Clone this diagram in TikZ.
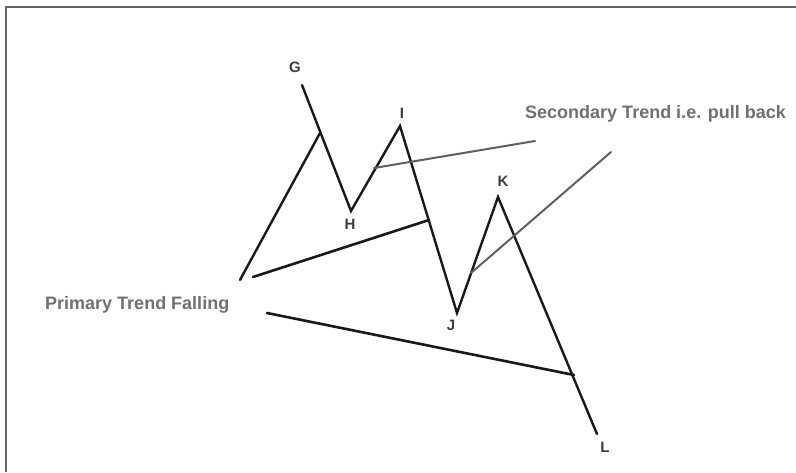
\documentclass[tikz,border=0pt]{standalone}
\usepackage{fontspec}
\newfontfamily\trendfont{Liberation Sans}
\usepackage{tikz}
\usetikzlibrary{positioning}

\definecolor{trendgray}{RGB}{112,112,112}
\definecolor{lettergray}{RGB}{60,60,60}
\definecolor{framegray}{RGB}{100,100,100}
\definecolor{pullgray}{RGB}{95,95,95}

\tikzset{
  wave/.style={line width=2.4pt, black!90, line cap=round},
  primary/.style={line width=2.6pt, black!90, line cap=round},
  pullback/.style={line width=2pt, pullgray, line cap=round},
  letter/.style={inner sep=0pt, text=lettergray, font=\trendfont\bfseries\fontsize{15}{16}\selectfont},
  caption/.style={inner sep=0pt, anchor=west, text=trendgray, font=\trendfont\bfseries\fontsize{18}{20}\selectfont}
}

\begin{document}
\begin{tikzpicture}[x=1pt, y=-1pt]
        \useasboundingbox (0,0) rectangle (796,472);

        % Cornice (solo lati sinistro e superiore)
        \draw[framegray, line width=2pt] (6,472) -- (6,7) -- (796,7);

        % Punti dell'onda
        \coordinate (A) at (240,280);
        \coordinate (G) at (302,85);
        \coordinate (Gm) at (320,133);
        \coordinate (H) at (351,211);
        \coordinate (I) at (400,126);
        \coordinate (J) at (457,313);
        \coordinate (K) at (498,197);
        \coordinate (L) at (597,434);

        % Onda principale
        \draw[wave] (A) -- (Gm);
        \draw[wave] (G) -- (H) -- (I) -- (J) -- (K) -- (L);

        % Etichette dei punti
        \node[letter] (labG) at (295,67) {G};
        \node[letter] (labH) at (350,224) {H};
        \node[letter] (labI) at (402,113) {I};
        \node[letter] (labJ) at (451,325) {J};
        \node[letter] (labK) at (503,181) {K};
        \node[letter] (labL) at (605,447) {L};

        % Testi
        \node[caption] (primtxt) at (45,305) {Primary Trend Falling};
        \node[caption] (sectxt) at (525,114) {Secondary Trend i.e. pull back};

        % Linee del trend primario
        \coordinate (P1a) at (253,277);
        \coordinate (P1b) at (429,220);
        \draw[primary] (P1a) -- (P1b);
        \coordinate (P2a) at (267,313);
        \coordinate (P2b) at (574,375);
        \draw[primary] (P2a) -- (P2b);

        % Linee del trend secondario
        \coordinate (S1a) at (374,168);
        \coordinate (S1b) at (535,141);
        \draw[pullback] (S1a) -- (S1b);
        \coordinate (S2a) at (471,273);
        \coordinate (S2b) at (611,152);
        \draw[pullback] (S2a) -- (S2b);

\end{tikzpicture}
\end{document}
